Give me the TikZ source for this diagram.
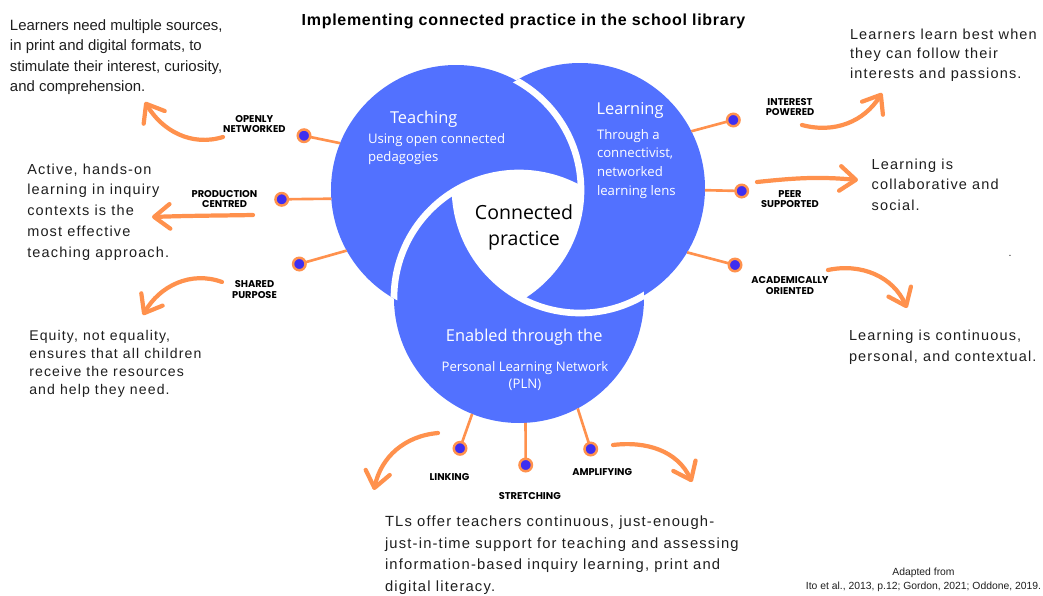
\documentclass[tikz,border=0pt]{standalone}
\usepackage{xcolor}
\usepackage{fontspec}
\setmainfont{Liberation Sans}
\newfontfamily\spacedfont[LetterSpace=8]{Liberation Sans}
\newfontfamily\headfont[LetterSpace=4.5]{Liberation Sans}
\newfontfamily\ringfont{Open Sans}
\newfontfamily\tagfont{Poppins}
\usetikzlibrary{arrows.meta}
\definecolor{ringblue}{RGB}{82,113,255}
\definecolor{tagorange}{RGB}{255,145,77}
\definecolor{dotblue}{RGB}{62,46,240}
\definecolor{ink}{RGB}{30,30,30}

\begin{document}
\begin{tikzpicture}[scale=0.2]
                \tikzstyle{every node}+=[inner sep=0pt, outer sep=0pt]
                \tikzstyle{ring}=[circle, minimum size=5cm]
                \tikzstyle{gap}=[white, line width=3.8pt]
                \tikzstyle{tagdot}=[circle, draw=tagorange, fill=dotblue, line width=1.4pt, minimum size=0.25cm]
                \tikzstyle{link}=[tagorange, line width=1.5pt]
                \tikzstyle{swoosh}=[tagorange, line width=2.4pt, line cap=round, -{Straight Barb[length=9pt,width=14pt,round]}]
                \tikzstyle{tagtext}=[align=center, font=\tagfont\bfseries\fontsize{5.6}{6}\selectfont]
                \tikzstyle{bodytext}=[anchor=north west, align=left, text=ink]
                \tikzstyle{ringtitle}=[text=white, font=\ringfont\fontsize{9.33}{11}\selectfont]
                \tikzstyle{ringsub}=[text=white, font=\ringfont\fontsize{7.5}{10.3}\selectfont]
                \useasboundingbox (0,0) rectangle (104.3,-59.5);
                \node[ring] (teach) at (45.6,-19.0) {};
                \node[ring] (learn) at (58.0,-18.8) {};
                \node[ring] (pln) at (51.9,-29.8) {};
                \fill[ringblue] (teach.center) circle (12.5);
                \fill[ringblue] (learn.center) circle (12.5);
                \fill[ringblue] (pln.center) circle (12.5);
                \begin{scope}
                \clip (learn.center) circle (12.5);
                \draw[gap] (teach.center) circle (12.5);
                \end{scope}
                \begin{scope}
                \clip (pln.center) circle (12.5);
                \draw[gap] (learn.center) circle (12.5);
                \end{scope}
                \begin{scope}
                \clip (teach.center) circle (12.5);
                \draw[gap] (pln.center) circle (12.5);
                \end{scope}
                \begin{scope}
                \clip (teach.center) circle (12.5);
                \clip (learn.center) circle (12.5);
                \fill[white] (pln.center) circle (12.5);
                \end{scope}
                \node[ringtitle, anchor=base west] (teachTitle) at (39.0,-12.33) {Teaching};
                \node[ringsub, anchor=north west, align=left] (teachSub) at (36.8,-13.31) {Using open connected\\pedagogies};
                \node[ringtitle, anchor=base west] (learnTitle) at (59.67,-11.4) {Learning};
                \node[ringsub, anchor=north west, align=left, font=\ringfont\fontsize{7.5}{10.6}\selectfont] (learnSub) at (59.7,-12.93) {Through a\\connectivist,\\networked\\learning lens};
                \node[anchor=north, align=center, text=black, font=\ringfont\fontsize{11.1}{15.2}\selectfont] (core) at (52.4,-20.42) {Connected\\practice};
                \node[ringtitle, anchor=base] (plnTitle) at (52.42,-34.1) {Enabled through the};
                \node[ringsub, anchor=north, align=center, font=\ringfont\fontsize{7.5}{9.85}\selectfont] (plnSub) at (52.5,-36.1) {Personal Learning Network\\(PLN)};
                \node[tagdot] (openly) at (30.4,-13.57) {};
                \node[tagdot] (production) at (28.17,-19.93) {};
                \node[tagdot] (shared) at (29.93,-26.4) {};
                \node[tagdot] (interest) at (73.33,-12.0) {};
                \node[tagdot] (peer) at (74.17,-19.1) {};
                \node[tagdot] (academic) at (73.5,-26.5) {};
                \node[tagdot] (linking) at (46.0,-44.83) {};
                \node[tagdot] (stretching) at (52.57,-46.5) {};
                \node[tagdot] (amplifying) at (59.07,-44.9) {};
                \draw[link] (teach.158) -- (openly);
                \draw[link] (teach.184) -- (production);
                \draw[link] (teach.209) -- (shared);
                \draw[link] (learn.27) -- (interest);
                \draw[link] (learn.-1) -- (peer);
                \draw[link] (learn.-31) -- (academic);
                \draw[link] (pln.-112) -- (linking);
                \draw[link] (pln.-87) -- (stretching);
                \draw[link] (pln.-62) -- (amplifying);
                \node[tagtext] (openlyTag) at (25.43,-12.39) {OPENLY\\NETWORKED};
                \node[tagtext] (productionTag) at (22.45,-19.92) {PRODUCTION\\CENTRED};
                \node[tagtext] (sharedTag) at (25.45,-28.95) {SHARED\\PURPOSE};
                \node[tagtext] (interestTag) at (79.0,-10.72) {INTEREST\\POWERED};
                \node[tagtext] (peerTag) at (79.0,-19.93) {PEER\\SUPPORTED};
                \node[tagtext] (academicTag) at (79.0,-28.53) {ACADEMICALLY\\ORIENTED};
                \node[tagtext] (linkingTag) at (44.95,-47.7) {LINKING};
                \node[tagtext] (stretchingTag) at (52.98,-49.62) {STRETCHING};
                \node[tagtext] (amplifyingTag) at (60.22,-47.22) {AMPLIFYING};
                \coordinate (openlyFrom) at (22.3,-13.7);
                \coordinate (openlyTo) at (14.5,-10.2);
                \coordinate (productionFrom) at (25.3,-21.5);
                \coordinate (productionTo) at (15.2,-21.7);
                \coordinate (sharedFrom) at (22.2,-28.2);
                \coordinate (sharedTo) at (14.3,-31.5);
                \coordinate (interestFrom) at (80.2,-12.5);
                \coordinate (interestTo) at (88.2,-9.3);
                \coordinate (peerFrom) at (75.7,-18.2);
                \coordinate (peerTo) at (85.8,-18.0);
                \coordinate (academicFrom) at (82.8,-27.0);
                \coordinate (academicTo) at (90.7,-30.8);
                \coordinate (linkingFrom) at (43.8,-43.3);
                \coordinate (linkingTo) at (37.4,-49.0);
                \coordinate (amplifyingFrom) at (61.3,-44.5);
                \coordinate (amplifyingTo) at (69.2,-48.2);
                \draw[swoosh] (openlyFrom) to[out=197, in=-59] (openlyTo);
                \draw[swoosh] (productionFrom) to[out=181, in=2] (productionTo);
                \draw[swoosh] (sharedFrom) to[out=160, in=60] (sharedTo);
                \draw[swoosh] (interestFrom) to[out=-15, in=-122] (interestTo);
                \draw[swoosh] (peerFrom) to[out=6, in=175] (peerTo);
                \draw[swoosh] (academicFrom) to[out=12, in=114] (academicTo);
                \draw[swoosh] (linkingFrom) to[out=185, in=78] (linkingTo);
                \draw[swoosh] (amplifyingFrom) to[out=7, in=115] (amplifyingTo);
                \node[anchor=north, font=\headfont\bfseries\fontsize{9.1}{11}\selectfont] (title) at (52.35,-1.35) {Implementing connected practice in the school library};
                \node[bodytext, font=\fontsize{8.5}{11.7}\selectfont] (sourcesNote) at (1.0,-1.92) {Learners need multiple sources,\\in print and digital formats, to\\stimulate their interest, curiosity,\\and comprehension.};
                \node[bodytext, font=\spacedfont\fontsize{8.25}{11.8}\selectfont] (activeNote) at (2.73,-16.36) {Active, hands-on\\learning in inquiry\\contexts is the\\most effective\\teaching approach.};
                \node[bodytext, font=\spacedfont\fontsize{8}{10.1}\selectfont] (equityNote) at (2.93,-33.06) {Equity, not equality,\\ensures that all children\\receive the resources\\and help they need.};
                \node[bodytext, font=\spacedfont\fontsize{8.25}{11.1}\selectfont] (passionNote) at (85.0,-2.89) {Learners learn best when\\they can follow their\\interests and passions.};
                \node[bodytext, font=\spacedfont\fontsize{8.25}{11.55}\selectfont] (socialNote) at (87.17,-15.89) {Learning is\\collaborative and\\social.};
                \node[bodytext, font=\spacedfont\fontsize{8.25}{11.95}\selectfont] (contextNote) at (84.9,-33.03) {Learning is continuous,\\personal, and contextual.};
                \node[bodytext, font=\spacedfont\fontsize{8.4}{12.3}\selectfont] (supportNote) at (38.5,-51.6) {TLs offer teachers continuous, just-enough-\\just-in-time support for teaching and assessing\\information-based inquiry learning, print and\\digital literacy.};
                \node[anchor=north, align=center, text=ink, font=\fontsize{5.9}{8}\selectfont] (credit) at (92.35,-56.75) {Adapted from\\Ito et al., 2013, p.12; Gordon, 2021; Oddone, 2019.};
                \node[text=ink, font=\fontsize{6}{7}\selectfont] (speck) at (101.0,-25.6) {.};
\end{tikzpicture}
\end{document}
